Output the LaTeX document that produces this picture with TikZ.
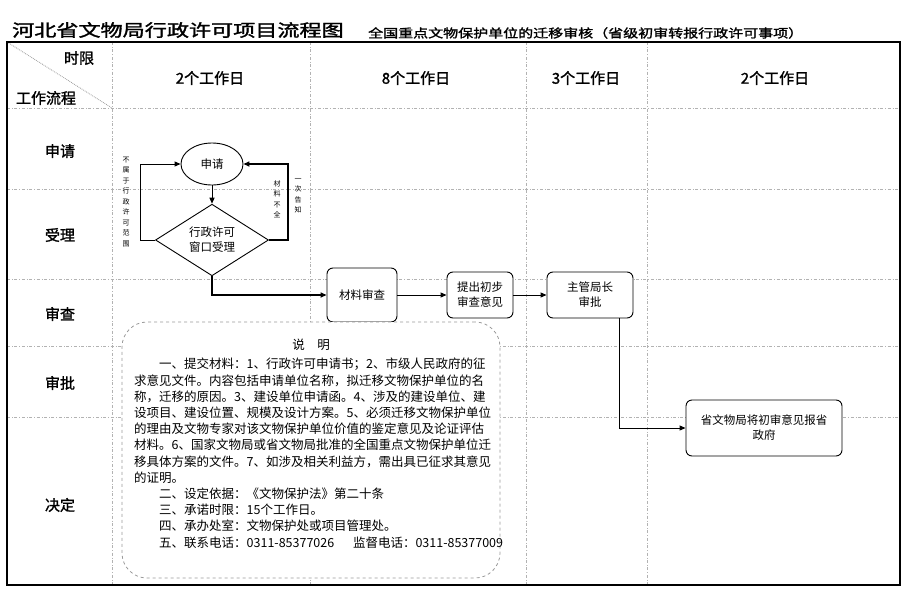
\documentclass[tikz,border=0pt]{standalone}
\usepackage{graphicx}
\usepackage{fontspec}
\setmainfont{Noto Sans CJK SC}
\newfontfamily\cjkb[FakeBold=1.5]{Noto Sans CJK SC}
\usetikzlibrary{shapes.geometric,arrows.meta}

\begin{document}
\begin{tikzpicture}[x=1pt,y=-1pt,>={Triangle[length=6pt,width=5pt]}]
  \tikzstyle{every node}=[inner sep=0pt]
  \tikzstyle{grid}=[draw=black!30,dash dot,line width=0.7pt]
  \tikzstyle{head}=[font=\cjkb\fontsize{15}{18}\selectfont]
  \tikzstyle{box}=[draw,rounded corners=6pt,line width=0.9pt,fill=white,align=center,font=\fontsize{11.5}{15}\selectfont]
  \tikzstyle{flow}=[line width=1pt,->]
  \tikzstyle{tiny}=[align=center,font=\fontsize{7}{10.5}\selectfont]
  \useasboundingbox (0,0) rectangle (908,597);
  \node[anchor=west] (title) at (12,30) {\cjkb\fontsize{17}{20}\selectfont\scalebox{1.3}[1]{河北省文物局行政许可项目流程图}};
  \node[anchor=west] (subtitle) at (368,33) {\cjkb\fontsize{12}{14}\selectfont\scalebox{1.25}[1]{全国重点文物保护单位的迁移审核（省级初审转报行政许可事项）}};
  % table
  \foreach \x in {112,310,526,647} \draw[grid] (\x,42) -- (\x,585);
  \foreach \y in {108,189,279,346,417} \draw[grid] (7,\y) -- (900,\y);
  \draw[black!40,densely dotted,line width=0.8pt] (7,42) -- (112,108);
  \draw[line width=2.5pt] (7,42) rectangle (900,585);
  \node[head] (shixian) at (79,58) {时限};
  \node[head] (liucheng) at (46,98) {工作流程};
  \node[head] (t1) at (210,78) {2个工作日};
  \node[head] (t2) at (416,78) {8个工作日};
  \node[head] (t3) at (586,78) {3个工作日};
  \node[head] (t4) at (775,78) {2个工作日};
  \node[head] (r1) at (60,151) {申请};
  \node[head] (r2) at (60,235) {受理};
  \node[head] (r3) at (60,314) {审查};
  \node[head] (r4) at (60,383) {审批};
  \node[head] (r5) at (60,505) {决定};
  % flow
  \node[draw,ellipse,line width=0.9pt,minimum width=62pt,minimum height=42pt,font=\fontsize{11.5}{14}\selectfont] (shenqing) at (212,164) {申请};
  \node[draw,diamond,line width=0.9pt,minimum width=113pt,minimum height=69pt,align=center,font=\fontsize{11.5}{15}\selectfont] (shouli) at (212,240) {行政许可\\窗口受理};
  \node[box,minimum width=70pt,minimum height=54pt] (shencha) at (362,295) {材料审查};
  \node[box,minimum width=66pt,minimum height=46pt] (yijian) at (480,295) {提出初步\\审查意见};
  \node[box,minimum width=86pt,minimum height=46pt] (shenpi) at (590,295) {主管局长\\审批};
  \node[box,minimum width=156pt,minimum height=56pt] (baosheng) at (764,428) {省文物局将初审意见报省\\政府};
  \draw[flow] (shenqing) -- (shouli);
  \draw[flow] (shouli.west) -- ++(-15,0) |- (shenqing.west);
  \draw[flow,line width=1.6pt] (shouli.east) -- ++(19,0) |- (shenqing.east);
  \draw[flow,line width=1.6pt] (shouli.south) |- (shencha.west);
  \draw[flow] (shencha) -- (yijian);
  \draw[flow] (yijian) -- (shenpi);
  \draw[flow] ([xshift=29pt]shenpi.south) |- (baosheng.west);
  \node[tiny] (fanwei) at (126,202) {不\\属\\于\\行\\政\\许\\可\\范\\围};
  \node[tiny] (buquan) at (277,199) {材\\料\\不\\全};
  \node[tiny] (gaozhi) at (298,196) {一\\次\\告\\知};
  % note
  \node[draw=black!40,dashed,line width=0.8pt,rounded corners=25pt,fill=white,minimum width=378pt,minimum height=256pt] (shuoming) at (311,450) {};
  \node[font=\fontsize{12.5}{15}\selectfont] (smtitle) at (311,345) {说\quad 明};
  \node[anchor=north west,align=left,font=\fontsize{12.5}{16.2}\selectfont] (smtext) at (134,358) {%
    \hspace*{2em}一、提交材料：1、行政许可申请书；2、市级人民政府的征\\
    求意见文件。内容包括申请单位名称，拟迁移文物保护单位的名\\
    称，迁移的原因。3、建设单位申请函。4、涉及的建设单位、建\\
    设项目、建设位置、规模及设计方案。5、必须迁移文物保护单位\\
    的理由及文物专家对该文物保护单位价值的鉴定意见及论证评估\\
    材料。6、国家文物局或省文物局批准的全国重点文物保护单位迁\\
    移具体方案的文件。7、如涉及相关利益方，需出具已征求其意见\\
    的证明。\\
    \hspace*{2em}二、设定依据：《文物保护法》第二十条\\
    \hspace*{2em}三、承诺时限：15个工作日。\\
    \hspace*{2em}四、承办处室：文物保护处或项目管理处。\\
    \hspace*{2em}五、联系电话：0311-85377026\hspace{1.5em}监督电话：0311-85377009};
\end{tikzpicture}
\end{document}
